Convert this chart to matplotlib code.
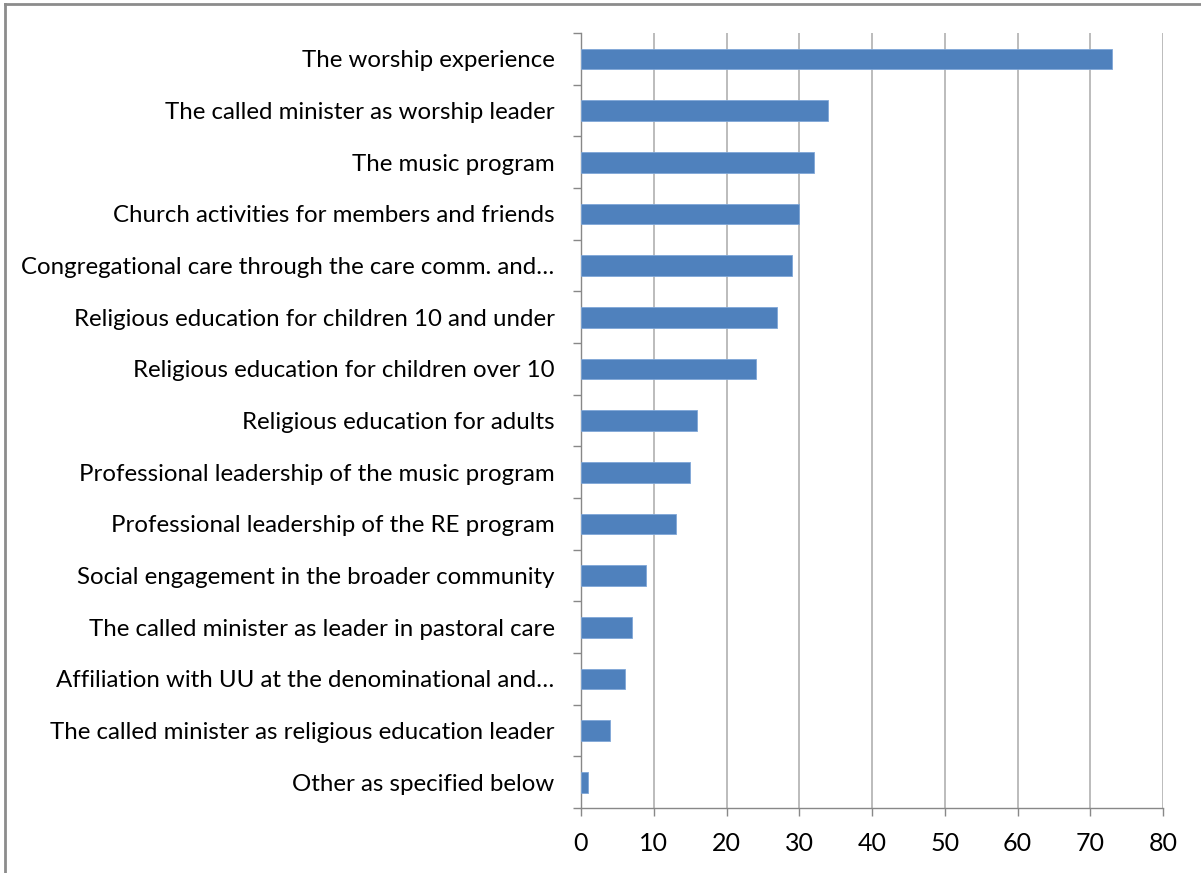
import matplotlib.pyplot as plt
from matplotlib.lines import Line2D
import numpy as np

categories = [
    "The worship experience",
    "The called minister as worship leader",
    "The music program",
    "Church activities for members and friends",
    "Congregational care through the care comm. and\u2026",
    "Religious education for children 10 and under",
    "Religious education for children over 10",
    "Religious education for adults",
    "Professional leadership of the music program",
    "Professional leadership of the RE program",
    "Social engagement in the broader community",
    "The called minister as leader in pastoral care",
    "Affiliation with UU at the denominational and\u2026",
    "The called minister as religious education leader",
    "Other as specified below",
]
values = [73, 34, 32, 30, 29, 27, 24, 16, 15, 13, 9, 7, 6, 4, 1]
xticks = [0, 10, 20, 30, 40, 50, 60, 70, 80]

plt.rcParams['font.family'] = ['Lato', 'DejaVu Sans']

fig = plt.figure(figsize=(12.01, 8.73), dpi=100)
ax = fig.add_axes([581 / 1201, 65 / 873, 582 / 1201, 775 / 873])

y = np.arange(len(categories))
ax.barh(y, values, height=0.4, color='#4F81BD', edgecolor='#7FA7D8', linewidth=0.6, zorder=3)

ax.set_xlim(0, 80)
ax.set_ylim(len(categories) - 0.5, -0.5)
ax.set_xticks(xticks)
ax.set_xticklabels([str(t) for t in xticks], fontsize=18)
ax.set_yticks(y)
ax.set_yticklabels(categories, fontsize=17.3)
ax.tick_params(axis='y', which='major', length=0, pad=19)
ax.set_yticks(np.arange(-0.5, len(categories), 1), minor=True)
ax.tick_params(axis='y', which='minor', length=6, color='#888888', width=1)
ax.tick_params(axis='x', length=6, color='#888888', width=1, pad=11)

ax.grid(axis='x', color='#B0B0B0', linewidth=1.2, zorder=0)
for side in ['top', 'right']:
    ax.spines[side].set_visible(False)
for side in ['left', 'bottom']:
    ax.spines[side].set_color('#888888')
    ax.spines[side].set_linewidth(1)

# outer chart frame (top and left edges visible)
fig.add_artist(Line2D([5 / 1201, 1], [1 - 4 / 873, 1 - 4 / 873], transform=fig.transFigure,
                      color='#8C8C8C', linewidth=2))
fig.add_artist(Line2D([5 / 1201, 5 / 1201], [0, 1 - 4 / 873], transform=fig.transFigure,
                      color='#8C8C8C', linewidth=2))

fig.savefig("out.png", dpi=100)
